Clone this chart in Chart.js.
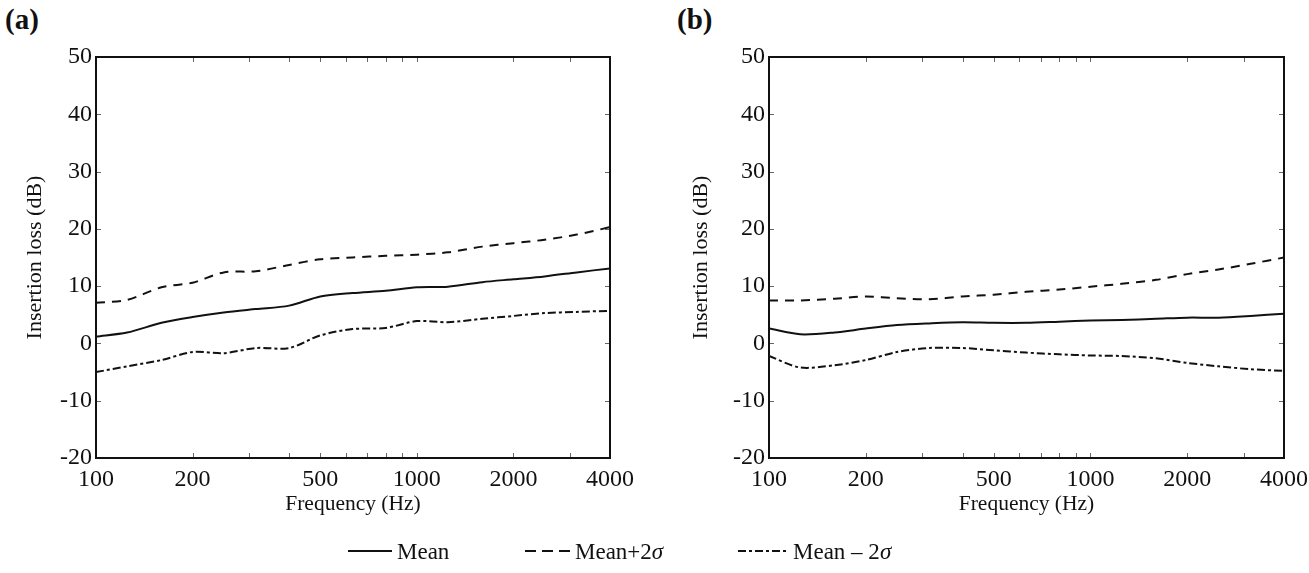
<!DOCTYPE html>
<html>
<head>
<meta charset="utf-8">
<script src="https://cdn.jsdelivr.net/npm/chart.js@4.4.1/dist/chart.umd.min.js"></script>
<style>
  html, body { margin:0; padding:0; background:#fff; }
  body { width:1309px; height:573px; overflow:hidden; position:relative; font-family:"Liberation Serif","Times New Roman",serif; color:#111; }
  canvas { position:absolute; top:0; }
  .tag { position:absolute; top:5px; font-weight:bold; font-size:29px; line-height:1; }
  .leg { position:absolute; top:538px; height:26px; display:flex; align-items:center; font-size:23px; line-height:1; }
  .leg svg { margin-right:5px; }
</style>
</head>
<body>
<div class="tag" style="left:5px;">(a)</div>
<div class="tag" style="left:677px;">(b)</div>
<canvas id="chartA" width="654" height="540" style="left:0px;"></canvas>
<canvas id="chartB" width="650" height="540" style="left:680px;"></canvas>

<div class="leg" style="left:348px;"><svg width="44" height="10"><line x1="0" y1="5" x2="44" y2="5" stroke="#111" stroke-width="2"/></svg><span>Mean</span></div>
<div class="leg" style="left:525px;"><svg width="45" height="10"><line x1="0" y1="5" x2="45" y2="5" stroke="#111" stroke-width="2" stroke-dasharray="11,6"/></svg><span>Mean+2<i>σ</i></span></div>
<div class="leg" style="left:738px;"><svg width="50" height="10"><line x1="0" y1="5" x2="50" y2="5" stroke="#111" stroke-width="2" stroke-dasharray="8,3,3,3"/></svg><span>Mean – 2<i>σ</i></span></div>

<script>
// ---- data ----
const frequencies = [100,125,160,200,250,315,400,500,630,800,1000,1250,1600,2000,2500,3150,4000];
const meanA  = [1.2,1.9,3.6,4.6,5.4,6.0,6.6,8.2,8.8,9.2,9.8,9.9,10.7,11.2,11.7,12.4,13.1];
const plusA  = [7.1,7.6,9.8,10.6,12.4,12.6,13.7,14.7,15.0,15.3,15.5,15.9,16.9,17.5,18.1,19.0,20.3];
const minusA = [-5.0,-4.0,-2.9,-1.5,-1.7,-0.8,-0.8,1.4,2.5,2.7,3.9,3.7,4.3,4.8,5.3,5.5,5.7];
const meanB  = [2.6,1.6,1.9,2.6,3.2,3.5,3.7,3.6,3.6,3.8,4.0,4.1,4.3,4.5,4.5,4.8,5.2];
const plusB  = [7.5,7.5,7.8,8.2,7.9,7.7,8.2,8.5,9.0,9.4,9.9,10.4,11.1,12.1,12.9,13.9,15.0];
const minusB = [-2.2,-4.2,-3.8,-2.9,-1.5,-0.8,-0.8,-1.2,-1.6,-1.9,-2.1,-2.2,-2.6,-3.4,-4.0,-4.5,-4.8];
const xTickLabels = [100,200,500,1000,2000,4000];
const xTickMarks = [100,200,300,400,500,600,700,800,900,1000,2000,3000,4000];
const yTickValues = [-20,-10,0,10,20,30,40,50];
const seriesNames = ['Mean','Mean+2σ','Mean – 2σ'];

const FONT = '"Liberation Serif","Times New Roman",serif';
const INK = '#111';

const framePlugin = {
  id: 'frame',
  afterDatasetsDraw(chart) {
    const {ctx, chartArea: a, scales: {x, y}} = chart;
    ctx.save();
    ctx.strokeStyle = '#666';
    ctx.lineWidth = 1;
    ctx.beginPath();
    for (const v of xTickMarks) {
      const px = Math.round(x.getPixelForValue(v)) + 0.5;
      ctx.moveTo(px, a.bottom); ctx.lineTo(px, a.bottom - 5);
      ctx.moveTo(px, a.top); ctx.lineTo(px, a.top + 5);
    }
    for (const v of yTickValues) {
      const py = Math.round(y.getPixelForValue(v)) + 0.5;
      ctx.moveTo(a.left, py); ctx.lineTo(a.left + 5, py);
      ctx.moveTo(a.right, py); ctx.lineTo(a.right - 5, py);
    }
    ctx.stroke();
    ctx.strokeStyle = INK;
    ctx.lineWidth = 2;
    ctx.strokeRect(a.left, a.top, a.right - a.left, a.bottom - a.top);
    ctx.restore();
  }
};

function makeChart(id, mean, plus, minus, yWidth, padRight, yTitlePad) {
  const pts = arr => frequencies.map((f, i) => ({x: f, y: arr[i]}));
  const base = {borderColor: INK, borderWidth: 2, pointRadius: 0, tension: 0.3, fill: false};
  return new Chart(document.getElementById(id), {
    type: 'line',
    data: {
      datasets: [
        {...base, label: seriesNames[0], data: pts(mean)},
        {...base, label: seriesNames[1], data: pts(plus), borderDash: [9, 7]},
        {...base, label: seriesNames[2], data: pts(minus), borderDash: [8, 3, 3, 3]}
      ]
    },
    options: {
      responsive: false,
      animation: false,
      layout: {padding: {top: 57, right: padRight, left: 0, bottom: 0}},
      plugins: {legend: {display: false}, tooltip: {enabled: false}},
      scales: {
        x: {
          type: 'logarithmic',
          min: 100, max: 4000,
          afterBuildTicks: s => { s.ticks = xTickMarks.map(v => ({value: v})); },
          afterFit: s => { s.height = 82; },
          grid: {display: false, drawTicks: false},
          border: {display: false},
          ticks: {
            autoSkip: false, maxRotation: 0, padding: 7, color: INK,
            font: {family: FONT, size: 24},
            callback: v => xTickLabels.includes(v) ? String(v) : ''
          },
          title: {display: true, text: 'Frequency (Hz)', color: INK,
                  font: {family: FONT, size: 21.5}, padding: {top: 0, bottom: 23}}
        },
        y: {
          min: -20, max: 50,
          afterBuildTicks: s => { s.ticks = yTickValues.map(v => ({value: v})); },
          afterFit: s => { s.width = yWidth; },
          grid: {display: false, drawTicks: false},
          border: {display: false},
          ticks: {padding: 4, color: INK, font: {family: FONT, size: 24}},
          title: {display: true, text: 'Insertion loss (dB)', color: INK,
                  font: {family: FONT, size: 22}, padding: {top: yTitlePad, bottom: 0}}
        }
      }
    },
    plugins: [framePlugin]
  });
}

makeChart('chartA', meanA, plusA, minusA, 96, 44, 22);
makeChart('chartB', meanB, plusB, minusB, 89, 46, 8);
</script>
</body>
</html>
